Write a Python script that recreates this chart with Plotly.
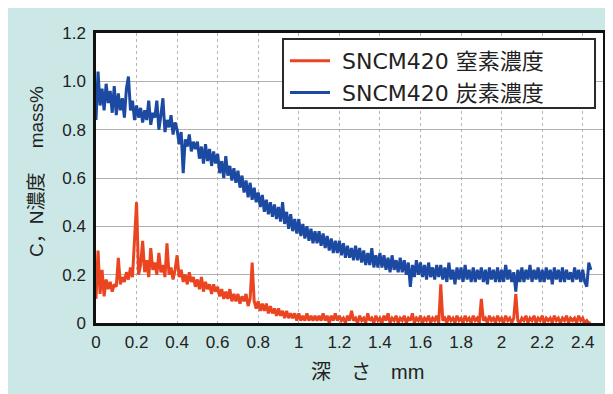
import plotly.graph_objects as go

# ---- data (step 0.01 mm) ----
carbon = [
    0.84, 1.04, 0.90, 0.97, 0.88, 0.99, 0.91, 0.96, 0.87, 0.98,
    0.86, 0.95, 0.88, 0.93, 0.85, 0.97, 1.02, 0.88, 0.92, 0.84,
    0.90, 0.85, 0.89, 0.83, 0.88, 0.84, 0.92, 0.82, 0.87, 0.85,
    0.92, 0.80, 0.86, 0.93, 0.79, 0.84, 0.81, 0.86, 0.78, 0.83,
    0.80, 0.74, 0.79, 0.62, 0.76, 0.73, 0.78, 0.71, 0.75, 0.72,
    0.75, 0.68, 0.73, 0.66, 0.74, 0.67, 0.72, 0.65, 0.71, 0.66,
    0.70, 0.62, 0.67, 0.60, 0.69, 0.61, 0.65, 0.59, 0.64, 0.58,
    0.63, 0.56, 0.61, 0.54, 0.59, 0.52, 0.58, 0.51, 0.56, 0.50,
    0.54, 0.48, 0.53, 0.46, 0.51, 0.45, 0.50, 0.44, 0.49, 0.43,
    0.48, 0.42, 0.50, 0.41, 0.46, 0.39, 0.45, 0.38, 0.43, 0.37,
    0.43, 0.36, 0.41, 0.35, 0.40, 0.34, 0.39, 0.33, 0.38, 0.33,
    0.38, 0.32, 0.37, 0.31, 0.36, 0.30, 0.35, 0.29, 0.34, 0.29,
    0.34, 0.28, 0.33, 0.27, 0.32, 0.27, 0.31, 0.26, 0.32, 0.26,
    0.31, 0.25, 0.30, 0.24, 0.29, 0.24, 0.31, 0.23, 0.28, 0.23,
    0.29, 0.23, 0.28, 0.22, 0.27, 0.21, 0.28, 0.22, 0.26, 0.21,
    0.27, 0.21, 0.26, 0.20, 0.25, 0.15, 0.24, 0.19, 0.26, 0.20,
    0.25, 0.19, 0.24, 0.18, 0.25, 0.19, 0.23, 0.18, 0.24, 0.19,
    0.24, 0.18, 0.23, 0.17, 0.25, 0.18, 0.22, 0.16, 0.23, 0.18,
    0.23, 0.17, 0.24, 0.18, 0.22, 0.17, 0.23, 0.17, 0.22, 0.18,
    0.23, 0.17, 0.22, 0.16, 0.23, 0.18, 0.22, 0.17, 0.23, 0.17,
    0.22, 0.17, 0.24, 0.18, 0.22, 0.17, 0.21, 0.13, 0.22, 0.17,
    0.23, 0.17, 0.22, 0.18, 0.24, 0.17, 0.22, 0.18, 0.23, 0.17,
    0.22, 0.17, 0.23, 0.18, 0.22, 0.16, 0.23, 0.18, 0.22, 0.17,
    0.23, 0.17, 0.22, 0.18, 0.21, 0.17, 0.23, 0.18, 0.22, 0.17,
    0.22, 0.17, 0.15, 0.25, 0.22,
]

nitrogen = [
    0.10, 0.30, 0.12, 0.22, 0.11, 0.18, 0.14, 0.17, 0.13, 0.16,
    0.15, 0.27, 0.16, 0.19, 0.17, 0.21, 0.18, 0.23, 0.19, 0.35,
    0.50, 0.20, 0.24, 0.34, 0.21, 0.26, 0.19, 0.31, 0.22, 0.25,
    0.20, 0.29, 0.21, 0.24, 0.19, 0.33, 0.20, 0.23, 0.18, 0.22,
    0.28, 0.19, 0.22, 0.17, 0.20, 0.16, 0.21, 0.17, 0.19, 0.15,
    0.18, 0.14, 0.19, 0.13, 0.17, 0.14, 0.16, 0.12, 0.16, 0.13,
    0.15, 0.11, 0.14, 0.10, 0.13, 0.10, 0.14, 0.09, 0.12, 0.09,
    0.12, 0.08, 0.11, 0.09, 0.12, 0.07, 0.10, 0.25, 0.09, 0.06,
    0.09, 0.05, 0.08, 0.05, 0.08, 0.04, 0.07, 0.04, 0.06, 0.03,
    0.06, 0.03, 0.05, 0.02, 0.05, 0.02, 0.04, 0.02, 0.04, 0.01,
    0.04, 0.01, 0.03, 0.01, 0.04, 0.01, 0.03, 0.01, 0.03, 0.01,
    0.03, 0.01, 0.04, 0.01, 0.03, 0.00, 0.03, 0.01, 0.04, 0.01,
    0.03, 0.01, 0.02, 0.00, 0.03, 0.01, 0.05, 0.01, 0.02, 0.00,
    0.03, 0.01, 0.02, 0.00, 0.04, 0.01, 0.02, 0.00, 0.03, 0.01,
    0.02, 0.00, 0.03, 0.01, 0.04, 0.00, 0.02, 0.01, 0.03, 0.00,
    0.02, 0.01, 0.03, 0.00, 0.02, 0.01, 0.04, 0.00, 0.02, 0.01,
    0.03, 0.00, 0.02, 0.01, 0.03, 0.00, 0.02, 0.01, 0.03, 0.00,
    0.16, 0.01, 0.02, 0.00, 0.03, 0.01, 0.02, 0.00, 0.03, 0.01,
    0.02, 0.00, 0.03, 0.01, 0.02, 0.00, 0.03, 0.01, 0.02, 0.00,
    0.10, 0.01, 0.02, 0.00, 0.03, 0.01, 0.02, 0.00, 0.03, 0.01,
    0.02, 0.00, 0.03, 0.01, 0.02, 0.00, 0.02, 0.12, 0.01, 0.00,
    0.02, 0.01, 0.03, 0.00, 0.02, 0.01, 0.03, 0.00, 0.02, 0.01,
    0.03, 0.00, 0.02, 0.01, 0.02, 0.00, 0.03, 0.01, 0.02, 0.00,
    0.02, 0.01, 0.03, 0.00, 0.02, 0.01, 0.02, 0.00, 0.03, 0.01,
    0.02, 0.00, 0.01, 0.00, 0.00,
]

depth = [round(i * 0.01, 2) for i in range(len(carbon))]

x_tickvals = [0, 0.2, 0.4, 0.6, 0.8, 1.0, 1.2, 1.4, 1.6, 1.8, 2.0, 2.2, 2.4]
x_ticktext = ["0", "0.2", "0.4", "0.6", "0.8", "1", "1.2", "1.4", "1.6", "1.8", "2", "2.2", "2.4"]
y_tickvals = [0, 0.2, 0.4, 0.6, 0.8, 1.0, 1.2]
y_ticktext = ["0", "0.2", "0.4", "0.6", "0.8", "1.0", "1.2"]

series_names = ["SNCM420 窒素濃度", "SNCM420 炭素濃度"]

FONT = "Liberation Sans, Arial, Noto Sans CJK JP, sans-serif"
LEG_FONT = "DejaVu Sans, Noto Sans CJK JP, sans-serif"
RED = "#ea4421"
BLUE = "#1c4aa3"
TEAL = "#cce8e6"

fig = go.Figure()
fig.add_trace(go.Scatter(x=depth, y=nitrogen, mode="lines", name="\u00a0" + series_names[0],
                         line=dict(color=RED, width=3)))
fig.add_trace(go.Scatter(x=depth, y=carbon, mode="lines", name="\u00a0" + series_names[1],
                         line=dict(color=BLUE, width=3)))

# page body has an 8px margin; work in absolute page pixels
OFF = 8
W, H = 613 - OFF, 394 - OFF
PL, PR, PT, PB = 96, 603, 33, 323   # plot area in page pixels
L, R, T, B = PL - OFF, 613 - PR, PT - OFF, 394 - PB
pw, ph = PR - PL, PB - PT

def px_x(px):
    return (px - PL) / pw

def px_y(py):
    return (PB - py) / ph

fig.update_layout(
    width=W, height=H,
    margin=dict(l=L, r=R, t=T, b=B, autoexpand=False),
    paper_bgcolor=TEAL,
    plot_bgcolor="white",
    font=dict(family=FONT, color="#222"),
    showlegend=True,
    legend=dict(
        x=px_x(285), y=px_y(40), xanchor="left", yanchor="top",
        bgcolor="rgba(0,0,0,0)", borderwidth=0,
        font=dict(size=22, family=LEG_FONT, color="#222"),
        itemwidth=40, tracegroupgap=0,
    ),
    xaxis=dict(
        range=[0, 2.5], tickvals=x_tickvals, ticktext=x_ticktext,
        showgrid=True, gridcolor="#b5b5b5", griddash="dot", gridwidth=1,
        showline=True, linecolor="#111", linewidth=2.5, mirror=True,
        ticks="", ticklabelstandoff=2, zeroline=False, automargin=False,
        tickfont=dict(size=17, color="#222"),
    ),
    yaxis=dict(
        range=[0, 1.2], tickvals=y_tickvals, ticktext=y_ticktext,
        showgrid=True, gridcolor="#b0b0b0", gridwidth=1.2,
        showline=True, linecolor="#111", linewidth=2.5, mirror=True,
        ticks="", ticklabelstandoff=4, zeroline=False, automargin=False,
        tickfont=dict(size=17, color="#222"),
    ),
    shapes=[
        # legend frame
        dict(type="rect", xref="paper", yref="paper",
             x0=px_x(283), x1=px_x(595), y0=px_y(108), y1=px_y(39),
             fillcolor="white", line=dict(color="#2a2a2a", width=2), layer="above"),
    ],
    annotations=[
        dict(text="深　さ　mm", xref="paper", yref="paper", x=px_x(367), y=px_y(372),
             showarrow=False, font=dict(size=20, family=FONT, color="#222"),
             xanchor="center", yanchor="middle"),
        dict(text="C，N濃度　 mass%", xref="paper", yref="paper", x=px_x(36), y=px_y(172),
             showarrow=False, textangle=-90, font=dict(size=19, family=FONT, color="#222"),
             xanchor="center", yanchor="middle"),
    ],
)

fig.write_html("out.html")
